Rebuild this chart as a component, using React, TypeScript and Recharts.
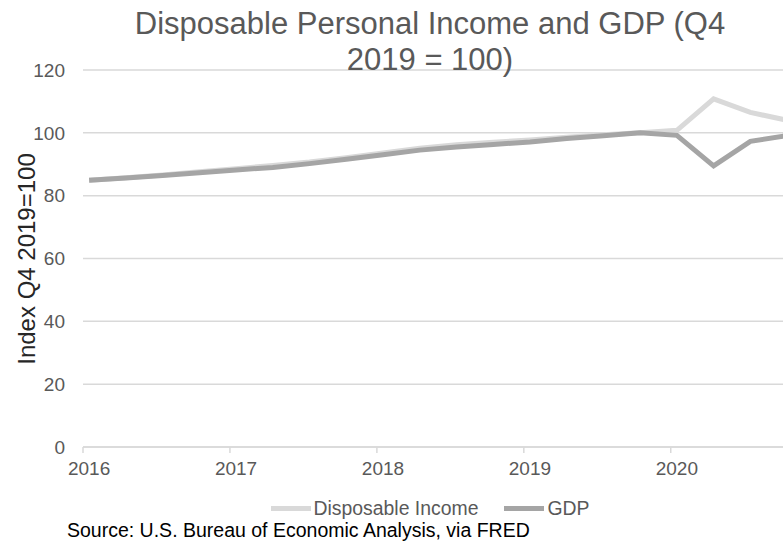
import React from "react";
import { LineChart, Line, XAxis, YAxis, CartesianGrid } from "recharts";

// Quarter start month index (months since Jan 2016)
const quarterMonths = [0, 3, 6, 9, 12, 15, 18, 21, 24, 27, 30, 33, 36, 39, 42, 45, 48, 51, 54, 57];
const quarterLabels = [
  "2016Q1", "2016Q2", "2016Q3", "2016Q4",
  "2017Q1", "2017Q2", "2017Q3", "2017Q4",
  "2018Q1", "2018Q2", "2018Q3", "2018Q4",
  "2019Q1", "2019Q2", "2019Q3", "2019Q4",
  "2020Q1", "2020Q2", "2020Q3", "2020Q4",
];
const disposableIncome = [
  84.9, 85.7, 86.6, 87.6,
  88.6, 89.6, 90.7, 92.1,
  93.6, 95.1, 96.2, 97.0,
  97.7, 98.6, 99.4, 100.0,
  100.8, 110.8, 106.5, 104.0,
];
const gdp = [
  84.9, 85.6, 86.4, 87.3,
  88.2, 89.0, 90.2, 91.6,
  93.0, 94.5, 95.5, 96.3,
  97.1, 98.2, 99.1, 100.0,
  99.2, 89.5, 97.3, 99.1,
];
const yearTicks = [0, 12, 24, 36, 48];
const yearLabels = ["2016", "2017", "2018", "2019", "2020"];
const yTicks = [0, 20, 40, 60, 80, 100, 120];

const data = quarterMonths.map((m, i) => ({
  m,
  q: quarterLabels[i],
  dpi: disposableIncome[i],
  gdp: gdp[i],
}));

const FONT = '"Liberation Sans", Arial, sans-serif';
const CHART_W = 860;
const CHART_H = 545;
const Y_W = 83;
const DOMAIN: [number, number] = [-0.5, 61.5];
const PX_PER_MONTH = 12.245;
const PLOT_W = PX_PER_MONTH * (DOMAIN[1] - DOMAIN[0]);
const MARGIN = { top: 70, right: CHART_W - Y_W - PLOT_W, bottom: 67, left: 0 };
const HALF = PX_PER_MONTH / 2;

const LIGHT = "#d9d9d9";
const DARK = "#a5a5a5";
const GRID = "#d9d9d9";
const TEXT = "#595959";

function XTick(props: any) {
  const { x, y, payload } = props;
  const idx = yearTicks.indexOf(payload.value);
  return (
    <g>
      <line x1={x - HALF} x2={x - HALF} y1={y} y2={y + 6} stroke={GRID} strokeWidth={1.5} />
      <text x={x} y={y + 21} textAnchor="middle" dominantBaseline="central" fill={TEXT} fontSize={19} fontFamily={FONT}>
        {idx >= 0 ? yearLabels[idx] : ""}
      </text>
    </g>
  );
}

function YLabel() {
  const cx = 26;
  const cy = 259;
  return (
    <text
      x={cx}
      y={cy}
      transform={`rotate(-90, ${cx}, ${cy})`}
      textAnchor="middle"
      dominantBaseline="central"
      fill="#262626"
      fontSize={24}
      fontFamily={FONT}
    >
      Index Q4 2019=100
    </text>
  );
}

export default function App() {
  return (
    <div style={{ position: "absolute", left: 0, top: 0, width: 783, height: 545, overflow: "hidden", background: "#fff" }}>
      <div style={{ position: "relative", width: CHART_W, height: CHART_H }}>
        <LineChart width={CHART_W} height={CHART_H} data={data} margin={MARGIN}>
          <CartesianGrid vertical={false} stroke={GRID} strokeWidth={1.5} />
          <XAxis
            dataKey="m"
            type="number"
            domain={DOMAIN}
            ticks={yearTicks}
            tick={<XTick />}
            tickLine={false}
            tickSize={0}
            tickMargin={0}
            height={31}
            axisLine={{ stroke: GRID, strokeWidth: 1.5 }}
            allowDataOverflow
          />
          <YAxis
            domain={[0, 120]}
            ticks={yTicks}
            width={Y_W}
            tickLine={false}
            axisLine={false}
            tickSize={0}
            tickMargin={18}
            tick={{ fill: TEXT, fontSize: 19, fontFamily: FONT }}
            label={<YLabel />}
          />
          <Line
            type="linear"
            dataKey="dpi"
            name="Disposable Income"
            stroke={LIGHT}
            strokeWidth={5}
            dot={false}
            isAnimationActive={false}
          />
          <Line
            type="linear"
            dataKey="gdp"
            name="GDP"
            stroke={DARK}
            strokeWidth={5}
            dot={false}
            isAnimationActive={false}
          />
        </LineChart>
        <div
          style={{
            position: "absolute",
            left: 0,
            top: 6,
            width: CHART_W,
            textAlign: "center",
            fontFamily: FONT,
            fontSize: 31,
            lineHeight: "36px",
            color: TEXT,
          }}
        >
          Disposable Personal Income and GDP (Q4
          <br />
          2019 = 100)
        </div>
        <div
          style={{
            position: "absolute",
            left: 0,
            top: 496,
            width: CHART_W,
            display: "flex",
            justifyContent: "center",
            alignItems: "center",
            fontFamily: FONT,
            fontSize: 19.4,
            color: TEXT,
            height: 24,
          }}
        >
          <span style={{ display: "inline-block", width: 40, height: 5, background: LIGHT, marginRight: 3 }} />
          <span>Disposable Income</span>
          <span style={{ display: "inline-block", width: 40, height: 5, background: DARK, marginLeft: 26, marginRight: 3 }} />
          <span>GDP</span>
        </div>
        <div
          style={{
            position: "absolute",
            left: 67,
            top: 519,
            fontFamily: FONT,
            fontSize: 19.5,
            color: "#000",
            whiteSpace: "nowrap",
          }}
        >
          Source: U.S. Bureau of Economic Analysis, via FRED
        </div>
      </div>
    </div>
  );
}
